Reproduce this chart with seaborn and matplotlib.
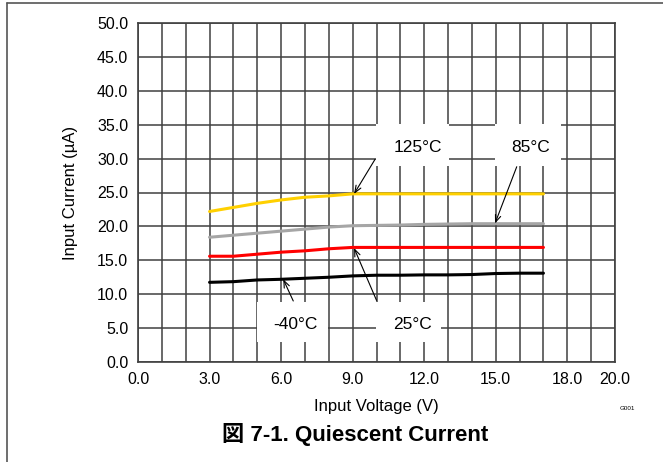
import numpy as np
import pandas as pd
import matplotlib
matplotlib.use("Agg")
import matplotlib.pyplot as plt
import seaborn as sns
from matplotlib.patches import Rectangle
from matplotlib.lines import Line2D

# =====================================
# Data
# =====================================

voltage = [3, 4, 5, 6, 7, 8, 9, 10, 11, 12, 13, 14, 15, 16, 17]

i_125 = [22.2, 22.8, 23.4, 23.9, 24.3, 24.5, 24.8, 24.8, 24.8, 24.8, 24.8, 24.8, 24.8, 24.8, 24.8]
i_85 = [18.4, 18.7, 19.0, 19.3, 19.6, 19.9, 20.1, 20.15, 20.2, 20.3, 20.35, 20.4, 20.4, 20.4, 20.4]
i_25 = [15.6, 15.6, 15.9, 16.2, 16.4, 16.7, 16.9, 16.9, 16.9, 16.9, 16.9, 16.9, 16.9, 16.9, 16.9]
i_m40 = [11.75, 11.85, 12.1, 12.2, 12.35, 12.5, 12.7, 12.8, 12.8, 12.85, 12.85, 12.9, 13.05, 13.1, 13.1]

temps = ["125°C", "85°C", "25°C", "-40°C"]
colors = ["#FFD000", "#A6A6A6", "#FF0000", "#000000"]

x_ticks = [0, 3, 6, 9, 12, 15, 18, 20]
y_ticks = [0, 5, 10, 15, 20, 25, 30, 35, 40, 45, 50]

df = pd.DataFrame({
    "Voltage": voltage * 4,
    "Current": i_125 + i_85 + i_25 + i_m40,
    "Temp": [t for t in temps for _ in voltage],
})

# =====================================
# Plot
# =====================================

sns.set_style("white")
plt.rcParams["font.family"] = ["Liberation Sans", "Noto Sans CJK JP", "DejaVu Sans"]
plt.rcParams["text.color"] = "black"
plt.rcParams["axes.labelcolor"] = "black"
plt.rcParams["xtick.color"] = "black"
plt.rcParams["ytick.color"] = "black"

fig = plt.figure(figsize=(6.63, 4.62), dpi=100)
ax = fig.add_axes([138 / 663, 1 - 362 / 462, 477 / 663, 339 / 462])

sns.lineplot(
    data=df, x="Voltage", y="Current", hue="Temp",
    palette=dict(zip(temps, colors)), linewidth=2.2,
    legend=False, ax=ax, zorder=3
)

ax.set_xlim(0, 20)
ax.set_ylim(0, 50)
ax.set_xticks(x_ticks)
ax.set_xticks(range(21), minor=True)
ax.set_yticks(y_ticks)
ax.set_xticklabels([f"{v:.1f}" for v in x_ticks])
ax.set_yticklabels([f"{v:.1f}" for v in y_ticks])
ax.tick_params(which="both", length=0, labelsize=11.5, pad=7)

ax.set_axisbelow(True)
ax.grid(which="both", color="#404040", linewidth=1.1)
for s in ax.spines.values():
    s.set_color("#404040")
    s.set_linewidth(1.2)

ax.set_xlabel("Input Voltage (V)", fontsize=12)
ax.set_ylabel("Input Current (µA)", fontsize=12)
ax.xaxis.set_label_coords(0.5, -0.108)
ax.yaxis.set_label_coords(-0.125, 0.5)

# label boxes covering the grid (125, 85, 25, -40)
boxes = [
    (9.97, 28.9, 3.05, 6.15),
    (14.97, 28.9, 2.75, 6.15),
    (9.97, 2.95, 2.75, 5.9),
    (4.97, 2.95, 3.0, 5.9),
]
for bx, by, bw, bh in boxes:
    ax.add_patch(Rectangle((bx, by), bw, bh, facecolor="white",
                           edgecolor="none", zorder=1.5))

label_pos = [(11.72, 31.7), (16.48, 31.7), (11.51, 5.6), (6.6, 5.6)]
arrow_tip = [(9.06, 24.8), (14.97, 20.45), (9.06, 16.8), (6.09, 12.2)]
arrow_tail = [(9.94, 29.9), (15.88, 28.8), (10.0, 9.1), (6.51, 9.0)]

for t, (lx, ly), tip, tail in zip(temps, label_pos, arrow_tip, arrow_tail):
    ax.text(lx, ly, t, ha="center", va="center", fontsize=12.5, zorder=4)
    ax.annotate("", xy=tip, xytext=tail,
                arrowprops=dict(arrowstyle="->,head_length=0.5,head_width=0.2",
                                color="black", lw=0.8, shrinkA=0, shrinkB=0),
                zorder=4)

fig.text(627 / 663, 1 - 409 / 462, "G001", fontsize=4.5, ha="center", va="center")
fig.text(355 / 663, 1 - 434 / 462, "図 7-1. Quiescent Current",
         fontsize=16, fontweight="bold", ha="center", va="center")

# page frame (top and left edges)
fig.add_artist(Line2D([7 / 663, 7 / 663], [0, 1 - 3 / 462],
                      transform=fig.transFigure, color="#555555", lw=1.2))
fig.add_artist(Line2D([7 / 663, 1], [1 - 3 / 462, 1 - 3 / 462],
                      transform=fig.transFigure, color="#555555", lw=1.2))

fig.savefig("out.png", dpi=100)
